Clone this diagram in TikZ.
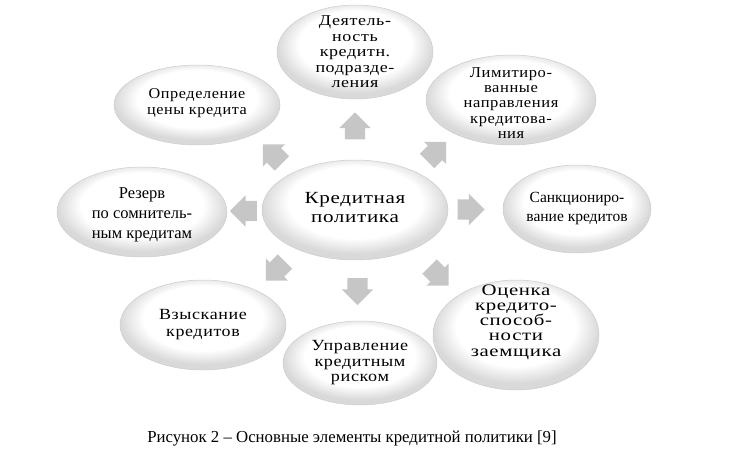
\documentclass[tikz,border=0pt]{standalone}
\usepackage{fontspec}
\setmainfont{Liberation Serif}
\newcommand\elemfont[3]{\addfontfeatures{FakeStretch=#3,LetterSpace=4}\fontsize{#1}{#2}\selectfont}
\usetikzlibrary{shapes.geometric,shapes.arrows,calc,positioning}
\pgfdeclareradialshading{elemshade}{\pgfpoint{0bp}{6bp}}{color(0bp)=(white); color(18bp)=(white); color(25bp)=(gray!30); color(50bp)=(gray!30)}
\tikzset{
    elem/.style={
        ellipse,
        shading=elemshade,
        draw=gray!40,
        line width=0.5pt,
        inner sep=0pt
    },
    elemtxt/.style={
        align=center,
        inner sep=0pt
    },
    arrowhd/.style={
        single arrow,
        fill=gray!45,
        draw=none,
        minimum height=27pt,
        inner xsep=0pt,
        inner ysep=10pt,
        single arrow head extend=5.5pt
    }
}

\begin{document}
\begin{tikzpicture}[x=1pt,y=-1pt]
        \useasboundingbox (0,0) rectangle (745,455);
        % draw ellipses
        \node[elem, minimum width=186, minimum height=100] (ctr) at (355,210) {};
        \node[elem, minimum width=156, minimum height=94] (dept) at (355,52) {};
        \node[elem, minimum width=170, minimum height=90] (limit) at (511,100) {};
        \node[elem, minimum width=166, minimum height=80] (price) at (197,105) {};
        \node[elem, minimum width=170, minimum height=90] (reserve) at (142,212) {};
        \node[elem, minimum width=148, minimum height=88] (sanct) at (577,209) {};
        \node[elem, minimum width=166, minimum height=90] (recover) at (203,325) {};
        \node[elem, minimum width=154, minimum height=84] (risk) at (360,363) {};
        \node[elem, minimum width=166, minimum height=110] (rating) at (516,335) {};

        % draw texts
        \node[elemtxt, font=\elemfont{17}{19}{1.24}] (ctr-t) at ($(ctr)+(0,-2)$) {Кредитная\\политика};
        \node[elemtxt, font=\elemfont{15}{15.5}{1.2}] (dept-t) at (dept) {Деятель-\\ность\\кредитн.\\подразде-\\ления};
        \node[elemtxt, font=\elemfont{15}{15.3}{1.1}] (limit-t) at ($(limit)+(0,3)$) {Лимитиро-\\ванные\\направления\\кредитова-\\ния};
        \node[elemtxt, font=\elemfont{15}{15.5}{1.08}] (price-t) at ($(price)+(0,-2)$) {Определение\\цены кредита};
        \node[elemtxt, font=\fontsize{16.5}{20}\selectfont] (reserve-t) at ($(reserve)+(0,3)$) {Резерв\\по сомнитель-\\ным кредитам};
        \node[elemtxt, font=\fontsize{15.5}{19}\selectfont] (sanct-t) at (sanct) {Санкциониро-\\вание кредитов};
        \node[elemtxt, font=\elemfont{15.5}{17}{1.16}] (recover-t) at (recover) {Взыскание\\кредитов};
        \node[elemtxt, font=\elemfont{15.5}{15.5}{1.17}] (risk-t) at (risk) {Управление\\кредитным\\риском};
        \node[elemtxt, font=\elemfont{16}{15.3}{1.3}] (rating-t) at ($(rating)+(0,-13)$) {Оценка\\кредито-\\способ-\\ности\\заемщика};

        % draw block arrows
        \foreach \e/\ang in {dept/90, limit/45, sanct/0, rating/-45, risk/-90, recover/-135, reserve/180, price/135}
        {
            \node[arrowhd, rotate=\ang] (a-\e) at ($(ctr)!0.5!(\e)$) {};
        }

        % draw caption
        \node[font=\fontsize{16.8}{19}\selectfont] (cap) at (352,438) {Рисунок 2 – Основные элементы кредитной политики [9]};
    \end{tikzpicture}
\end{document}
